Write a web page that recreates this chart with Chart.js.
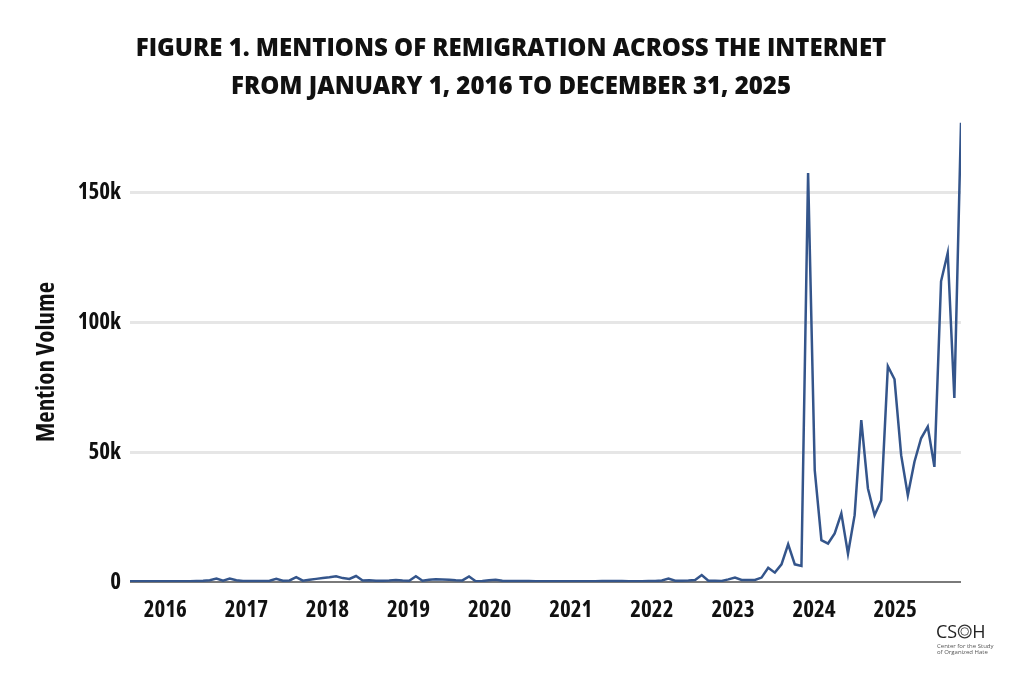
<!DOCTYPE html>
<html>
<head>
<meta charset="utf-8">
<script src="https://cdn.jsdelivr.net/npm/chart.js@4.4.1/dist/chart.umd.min.js"></script>
<style>
  html, body { margin: 0; padding: 0; background: #fff; }
  #wrap { width: 1024px; height: 675px; }
</style>
</head>
<body>
<div id="wrap"><canvas id="chart"></canvas></div>
<script>
// monthly mention counts
const mentions = [
  300, 300, 300, 300, 300, 300, 300, 300, 300, 300,
  400, 500, 700, 1300, 500, 1300, 700, 400, 400, 400,
  400, 500, 1200, 500, 600, 1900, 500, 900, 1200, 1500,
  1800, 2200, 1500, 1200, 2300, 600, 700, 500, 500, 600,
  800, 600, 500, 2200, 500, 900, 1100, 1000, 900, 700,
  600, 2100, 300, 400, 700, 900, 500, 400, 400, 400,
  400, 300, 300, 300, 300, 300, 300, 300, 300, 300,
  300, 400, 400, 400, 400, 300, 300, 300, 400, 400,
  600, 1300, 500, 500, 600, 800, 2700, 500, 500, 400,
  1000, 1700, 800, 800, 800, 1700, 5500, 3600, 6800, 14500,
  6800, 6200, 157400, 43000, 16100, 14800, 18700, 26400, 10900, 25700,
  62300, 36000, 25700, 31500, 83000, 78000, 48800, 33400, 46300, 55300,
  59800, 44300, 115700, 126600, 70800, 176700
]
const years = ["2016", "2017", "2018", "2019", "2020", "2021", "2022", "2023", "2024", "2025"]
const yTicks = [0, 50000, 100000, 150000]

// condensed bold for the axes (font-stretch goes in the weight slot of the font string)
const axisFont = { family: "'Open Sans'", size: 23, weight: "bold condensed" }

const points = mentions.map(function (v, i) { return { x: i, y: v } })

const titlePlugin = {
    id: "titleAndLogo",
    afterDraw: function (chart) {
        const ctx = chart.ctx
        ctx.save()
        ctx.fillStyle = "#111"
        ctx.textAlign = "center"
        ctx.textBaseline = "middle"
        ctx.font = "800 24px 'Open Sans'"
        ctx.fillText("FIGURE 1. MENTIONS OF REMIGRATION ACROSS THE INTERNET", 511, 49)
        ctx.fillText("FROM JANUARY 1, 2016 TO DECEMBER 31, 2025", 511, 87)

        // y axis title
        ctx.save()
        ctx.translate(47, 362)
        ctx.rotate(-Math.PI / 2)
        ctx.font = "bold condensed 25px 'Open Sans'"
        ctx.fillText("Mention Volume", 0, 0)
        ctx.restore()

        // CSOH logo
        ctx.textAlign = "left"
        ctx.textBaseline = "alphabetic"
        ctx.fillStyle = "#222"
        ctx.font = "400 18px 'Open Sans'"
        let lx = 936
        ctx.fillText("CS", lx, 638)
        lx += ctx.measureText("CS").width + 1
        ctx.strokeStyle = "#333"
        ctx.lineWidth = 1.3
        ctx.beginPath()
        ctx.arc(lx + 6.5, 631.5, 6.3, 0, Math.PI * 2)
        ctx.stroke()
        ctx.lineWidth = 0.8
        ctx.beginPath()
        ctx.arc(lx + 6.5, 631.5, 3.8, 0, Math.PI * 2)
        ctx.stroke()
        ctx.fillText("H", lx + 14, 638)
        ctx.fillStyle = "#555"
        ctx.font = "400 6px 'Open Sans'"
        ctx.fillText("Center for the Study", 937, 648)
        ctx.fillText("of Organized Hate", 937, 654)
        ctx.restore()
    }
}

new Chart(document.getElementById("chart"), {
    type: "line",
    data: {
        datasets: [
            {
                data: points,
                borderColor: "#34558b",
                borderWidth: 2.5,
                pointRadius: 0,
                tension: 0,
                fill: false
            }
        ]
    },
    options: {
        responsive: true,
        maintainAspectRatio: false,
        animation: false,
        layout: { padding: { top: 122, right: 63, bottom: 0, left: 0 } },
        plugins: {
            legend: { display: false },
            tooltip: { enabled: false }
        },
        scales: {
            x: {
                type: "linear",
                min: 0,
                max: mentions.length - 1,
                afterFit: function (s) { s.height = 93 },
                afterBuildTicks: function (s) {
                    s.ticks = years.map(function (y, k) { return { value: 5.3 + 12.2 * k } })
                },
                ticks: {
                    autoSkip: false,
                    maxRotation: 0,
                    padding: 7,
                    color: "#111",
                    font: axisFont,
                    callback: function (v, i) { return years[i] }
                },
                grid: { display: false },
                border: { display: false }
            },
            y: {
                min: 0,
                max: 177000,
                afterFit: function (s) { s.width = 130 },
                afterBuildTicks: function (s) {
                    s.ticks = yTicks.map(function (v) { return { value: v } })
                },
                ticks: {
                    padding: 9,
                    color: "#111",
                    font: axisFont,
                    callback: function (v) { return v === 0 ? "0" : (v / 1000) + "k" }
                },
                grid: {
                    drawTicks: false,
                    color: function (c) { return c.tick && c.tick.value === 0 ? "#7a7a7a" : "#e6e6e6" },
                    lineWidth: function (c) { return c.tick && c.tick.value === 0 ? 2 : 3 }
                },
                border: { display: false }
            }
        }
    },
    plugins: [titlePlugin]
})
</script>
</body>
</html>
